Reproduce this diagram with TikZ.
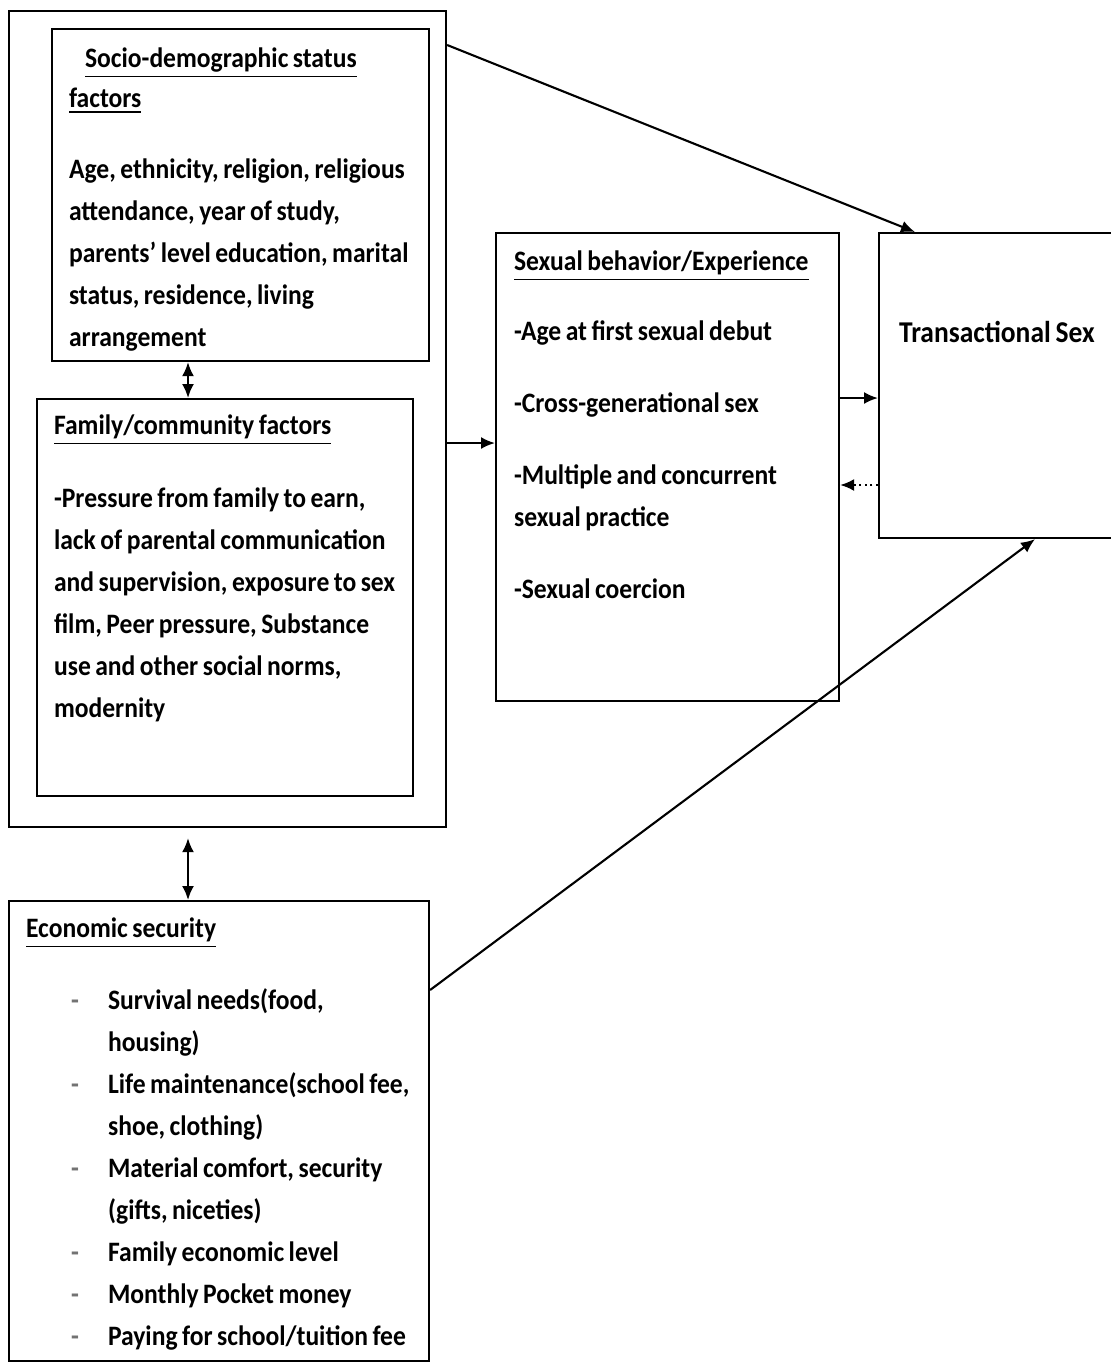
\documentclass[tikz,border=0pt]{standalone}
\usepackage{fontspec}
\setmainfont{Carlito}[FakeStretch=0.91]
\usetikzlibrary{arrows.meta}
\tikzset{factor box/.style={draw,line width=0.6pt,anchor=north west,inner sep=0cm},
box heading/.style={font=\bfseries\fontsize{8}{11.4}\selectfont,anchor=base west,text width=4.2cm,align=left,inner sep=0cm,
  execute at begin node={\spaceskip=0.16em plus 0.05em\relax}},
box text/.style={font=\bfseries\fontsize{8}{11.95}\selectfont,anchor=base west,text width=4.2cm,align=left,inner sep=0cm,
  execute at begin node={\spaceskip=0.16em plus 0.05em\relax}},
link/.style={line width=0.6pt,-{Latex[length=0.14cm,width=0.12cm]}},
both link/.style={line width=0.6pt,{Latex[length=0.14cm,width=0.12cm]}-{Latex[length=0.14cm,width=0.12cm]}}}
\newcommand{\econbullet}{\makebox[0.37cm][l]{\textcolor{black!55}{-}}}

\begin{document}
\begin{tikzpicture}[semithick]
\useasboundingbox (0,0) rectangle (11.10,-13.62);

%% Boxes.
\node [factor box,minimum width=4.37cm,minimum height=8.16cm] (outer) at (0.08,-0.10) {};
\node [factor box,minimum width=3.77cm,minimum height=3.32cm] (socio) at (0.51,-0.28) {};
\node [factor box,minimum width=3.76cm,minimum height=3.97cm] (family) at (0.36,-3.98) {};
\node [factor box,minimum width=4.20cm,minimum height=4.60cm] (econ) at (0.08,-9.00) {};
\node [factor box,minimum width=3.43cm,minimum height=4.68cm] (sexbeh) at (4.95,-2.32) {};
\node [factor box,minimum width=2.40cm,minimum height=3.05cm] (trans) at (8.78,-2.32) {};

%% Coordinates of arrow ends.
\coordinate (colA) at (1.88,0);
\coordinate (colB) at (9.15,0);
\coordinate (colC) at (10.35,0);
\coordinate (rowA) at (0,-4.43);
\coordinate (rowB) at (0,-3.98);
\coordinate (rowC) at (0,-4.85);
\coordinate (rowD) at (0,-9.90);

%% arrows
\draw [both link] (socio.south -| colA) -- (family.north -| colA);
\draw [both link] ([yshift=-0.10cm]outer.south -| colA) -- (econ.north -| colA);
\draw [link] (outer.east |- rowA) -- (sexbeh.west |- rowA);
\draw [link] ([yshift=-0.35cm]outer.north east) -- (trans.north -| colB);
\draw [link] (sexbeh.east |- rowB) -- (trans.west |- rowB);
\draw [link,densely dotted] (trans.west |- rowC) -- (sexbeh.east |- rowC);
\draw [link] (econ.east |- rowD) -- (trans.south -| colC);

%% headings
\node [box heading] (socio head) at (0.68,-0.67) {\hspace*{0.16cm}\underline{Socio-demographic status}\\\underline{factors}};
\node [box heading] (family head) at (0.53,-4.34) {\underline{Family/community factors}};
\node [box heading] (sexbeh head) at (5.13,-2.70) {\underline{Sexual behavior/Experience}};
\node [box heading] (econ head) at (0.25,-9.37) {\underline{Economic security}};
\node [box heading,font=\bfseries\fontsize{8.6}{11.4}\selectfont] (trans head) at (8.98,-3.42) {Transactional Sex};

%% box texts
\node [box text] (socio text) at (0.68,-1.78) {Age, ethnicity, religion, religious\\attendance, year of study,\\parents' level education, marital\\status, residence, living\\arrangement};
\node [box text] (family text) at (0.53,-5.07) {-Pressure from family to earn,\\lack of parental communication\\and supervision, exposure to sex\\film, Peer pressure, Substance\\use and other social norms,\\modernity};
\node [box text] (sexbeh text) at (5.13,-3.40) {-Age at first sexual debut\\[0.3cm]-Cross-generational sex\\[0.3cm]-Multiple and concurrent\\sexual practice\\[0.3cm]-Sexual coercion};
\node [box text] (econ text) at (0.70,-10.09) {\econbullet Survival needs(food,\\\hspace*{0.37cm}housing)\\\econbullet Life maintenance(school fee,\\\hspace*{0.37cm}shoe, clothing)\\\econbullet Material comfort, security\\\hspace*{0.37cm}(gifts, niceties)\\\econbullet Family economic level\\\econbullet Monthly Pocket money\\\econbullet Paying for school/tuition fee};

\end{tikzpicture}
\end{document}
